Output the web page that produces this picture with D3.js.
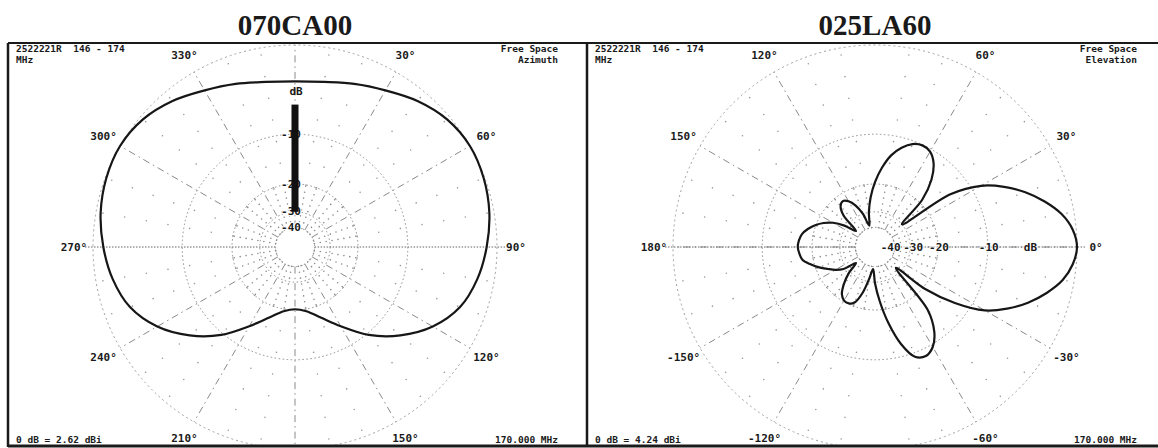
<!DOCTYPE html>
<html>
<head>
<meta charset="utf-8">
<script src="https://cdn.jsdelivr.net/npm/d3@7"></script>
<style>
  body { margin: 0; background: #fff; }
  text { font-family: "DejaVu Sans Mono", "Liberation Mono", monospace; }
</style>
</head>
<body>
<div id="chart"></div>
<script>
// ---- data ----
const titles = ["070CA00", "025LA60"];
const headerLeft = ["2522221R  146 - 174", "MHz"];
const headerRight = [["Free Space", "Azimuth"], ["Free Space", "Elevation"]];
const footerLeft = ["0 dB = 2.62 dBi", "0 dB = 4.24 dBi"];
const footerRight = ["170.000 MHz", "170.000 MHz"];

// azimuth plot: compass degrees (0 = up, clockwise), gain in dB
const azAngles = [0, 10, 20, 30, 40, 50, 60, 70, 80, 90, 100, 110, 120, 130, 140, 150, 160, 170,
                  180, 190, 200, 210, 220, 230, 240, 250, 260, 270, 280, 290, 300, 310, 320, 330, 340, 350];
const azGain = [-3.4, -3.2, -2.6, -1.9, -1.0, -0.3, 0.0, -0.1, -0.4, -0.9, -1.5, -2.4, -4.1, -6.6, -9.7, -13.6, -17.0, -19.4,
                -20.2, -19.4, -17.0, -13.6, -9.7, -6.6, -4.1, -2.4, -1.5, -0.9, -0.4, -0.1, 0.0, -0.3, -1.0, -1.9, -2.6, -3.2];

// elevation plot: degrees (0 = right, counter-clockwise), gain in dB
const elAngles = [-180, -175, -170, -165, -160, -155, -150, -145, -140, -135, -130, -125, -120, -115, -110, -105, -100, -95,
                  -90, -85, -80, -75, -70, -65, -60, -55, -50, -45, -40, -35, -30, -25, -20, -15, -10, -5,
                  0, 5, 10, 15, 20, 25, 30, 35, 40, 45, 50, 55, 60, 65, 70, 75, 80, 85,
                  90, 95, 100, 105, 110, 115, 120, 125, 130, 135, 140, 145, 150, 155, 160, 165, 170, 175];
const elGain = [-16.5, -16.8, -17.3, -19.0, -21.0, -23.3, -25.5, -28.5, -36.0, -29.0, -24.5, -21.5, -20.3, -20.2, -21.2, -25.0, -32.0, -38.0,
                -29.5, -22.5, -16.5, -12.0, -9.4, -8.9, -9.6, -11.5, -15.5, -33.0, -19.5, -12.5, -8.0, -5.6, -3.7, -2.2, -1.0, -0.3,
                0.0, -0.3, -1.1, -2.4, -4.0, -6.0, -8.6, -13.5, -30.0, -19.0, -14.3, -11.7, -10.4, -10.1, -10.5, -11.6, -13.3, -16.0,
                -19.5, -24.0, -30.0, -38.0, -30.0, -25.5, -23.0, -22.0, -22.8, -26.0, -36.0, -29.0, -24.5, -21.8, -19.8, -18.3, -17.2, -16.7];

const ringDb = [0, -10, -20, -30, -40];
const ringLabels = ["-10", "-20", "-30", "-40"];
const ringLabelDb = [-10, -20, -30, -40];
const azLabelAngles = [330, 30, 300, 60, 270, 90, 240, 120, 210, 150];
const elLabelAngles = [120, 60, 150, 30, 180, 0, -150, -30, -120, -60];
const scaleBarDb = [-6, -30];

// ---- layout ----
const W = 1158, H = 448;
const frameTop = 43, frameBottom = 446, cy = 247, R = 202;
const panels = [
  { x0: 8, x1: 580, cx: 295, mode: "az" },
  { x0: 587, x1: 1158, cx: 875, mode: "el" }
];

// ARRL log scale: radius shrinks by 0.89 every 2 dB
const gainScale = d3.scaleLog().domain([R * Math.pow(0.89, 20), R]).range([-40, 0]);
const rad = db => gainScale.invert(db);
const toRad = a => a * Math.PI / 180;

const svg = d3.select("#chart").append("svg")
  .attr("width", W).attr("height", H);

panels.forEach((p, i) => {
  // compass angle (0 up, clockwise) for either mode
  const theta = p.mode === "az" ? (a => a) : (a => 90 - a);
  const px = (a, r) => r * Math.sin(toRad(theta(a)));
  const py = (a, r) => -r * Math.cos(toRad(theta(a)));

  svg.append("clipPath").attr("id", "clip" + i)
    .append("rect").attr("x", p.x0).attr("y", frameTop)
    .attr("width", p.x1 - p.x0).attr("height", frameBottom - frameTop);

  const g = svg.append("g").attr("clip-path", `url(#clip${i})`)
    .append("g").attr("transform", `translate(${p.cx},${cy})`);

  // title
  svg.append("text")
    .attr("x", p.cx).attr("y", 35)
    .attr("text-anchor", "middle")
    .style("font-family", "'Liberation Serif', 'Times New Roman', serif")
    .style("font-weight", "bold")
    .style("font-size", "29px")
    .attr("fill", "#1a1a1a")
    .text(titles[i]);

  // minor radials every 10 deg, dotted
  const minor = d3.range(0, 360, 10).filter(a => a % 30 !== 0);
  g.selectAll(".minorIn").data(minor).join("line")
    .attr("x1", a => px(a, rad(-40))).attr("y1", a => py(a, rad(-40)))
    .attr("x2", a => px(a, rad(-20))).attr("y2", a => py(a, rad(-20)))
    .attr("stroke", "#8a8a8a").attr("stroke-width", 1.6)
    .attr("stroke-linecap", "round").attr("stroke-dasharray", "0,6");
  g.selectAll(".minorOut").data(minor).join("line")
    .attr("x1", a => px(a, rad(-20))).attr("y1", a => py(a, rad(-20)))
    .attr("x2", a => px(a, R)).attr("y2", a => py(a, R))
    .attr("stroke", "#9a9a9a").attr("stroke-width", 1.6)
    .attr("stroke-linecap", "round").attr("stroke-dasharray", "0,22");

  // rings
  g.selectAll(".ring").data(ringDb).join("circle")
    .attr("r", d => rad(d))
    .attr("fill", "none")
    .attr("stroke", d => d === 0 ? "#a0a0a0" : "#8c8c8c")
    .attr("stroke-width", 1)
    .attr("stroke-dasharray", d => d === 0 ? "2,3" : "1.5,2.5");

  // 30 deg spokes, dash-dot
  const spokes = d3.range(0, 360, 30).filter(a => a % 90 !== 0 || a === 0 || a === 180);
  g.selectAll(".spoke").data(spokes).join("line")
    .attr("x1", a => px(a, rad(-40))).attr("y1", a => py(a, rad(-40)))
    .attr("x2", a => px(a, R)).attr("y2", a => py(a, R))
    .attr("stroke", "#8a8a8a").attr("stroke-width", 1)
    .attr("stroke-dasharray", "7,4,1.5,4");

  // horizontal axis, denser
  g.append("line")
    .attr("x1", -R - 8).attr("x2", -rad(-40)).attr("y1", 0).attr("y2", 0)
    .attr("stroke", "#666").attr("stroke-width", 1).attr("stroke-dasharray", "1.5,1.5");
  g.append("line")
    .attr("x1", rad(-40)).attr("x2", R + 8).attr("y1", 0).attr("y2", 0)
    .attr("stroke", "#666").attr("stroke-width", 1).attr("stroke-dasharray", "1.5,1.5");

  // pattern
  const angles = p.mode === "az" ? azAngles : elAngles;
  const gains = p.mode === "az" ? azGain : elGain;
  const pts = angles.map((a, k) => ({ a, db: gains[k] }));
  const line = d3.lineRadial()
    .angle(d => toRad(theta(d.a)))
    .radius(d => rad(d.db))
    .curve(d3.curveCatmullRomClosed.alpha(0.5));
  g.append("path").datum(pts)
    .attr("d", line)
    .attr("fill", "none")
    .attr("stroke", "#161616")
    .attr("stroke-width", 2.2);

  // dB ring labels
  const lab = g.append("g")
    .style("font-size", "11px").style("font-weight", "bold")
    .attr("fill", "#1a1a1a");
  if (p.mode === "az") {
    lab.selectAll("text").data(ringLabelDb).join("text")
      .attr("x", -4).attr("y", d => -rad(d))
      .attr("text-anchor", "middle").attr("dominant-baseline", "central")
      .attr("stroke", "#fff").attr("stroke-width", 2).attr("paint-order", "stroke")
      .text((d, k) => ringLabels[k]);
    lab.append("text").attr("x", 1).attr("y", -rad(-4.5))
      .attr("text-anchor", "middle").attr("dominant-baseline", "central").text("dB");
    g.append("rect")
      .attr("x", -3.5).attr("width", 7)
      .attr("y", -rad(scaleBarDb[0]))
      .attr("height", rad(scaleBarDb[0]) - rad(scaleBarDb[1]))
      .attr("fill", "#111");
  } else {
    // inner labels sit tight together, nudge the two innermost apart
    const nudge = d => d === -40 ? -4 : d === -30 ? 3 : 1;
    lab.selectAll("text").data(ringLabelDb).join("text")
      .attr("x", d => rad(d) + nudge(d)).attr("y", 0)
      .attr("text-anchor", "middle").attr("dominant-baseline", "central")
      .attr("stroke", "#fff").attr("stroke-width", 2).attr("paint-order", "stroke")
      .text((d, k) => ringLabels[k]);
    lab.append("text").attr("x", rad(-4.5)).attr("y", 0)
      .attr("text-anchor", "middle").attr("dominant-baseline", "central")
      .attr("stroke", "#fff").attr("stroke-width", 2).attr("paint-order", "stroke")
      .text("dB");
  }

  // angle labels
  const labAngles = p.mode === "az" ? azLabelAngles : elLabelAngles;
  g.append("g").selectAll("text").data(labAngles).join("text")
    .attr("x", a => px(a, 221)).attr("y", a => py(a, 221))
    .attr("text-anchor", "middle").attr("dominant-baseline", "central")
    .style("font-size", "11px").style("font-weight", "bold")
    .attr("fill", "#1a1a1a")
    .text(a => a + "°");

  // corner texts
  const corner = svg.append("g")
    .style("font-size", "9.5px").style("font-weight", "bold").attr("fill", "#1a1a1a");
  corner.append("text").attr("x", p.x0 + 8).attr("y", 52)
    .style("white-space", "pre").text(headerLeft[0]);
  corner.append("text").attr("x", p.x0 + 8).attr("y", 63).text(headerLeft[1]);
  const xr = p.x0 + 550;
  corner.append("text").attr("x", xr).attr("y", 52).attr("text-anchor", "end").text(headerRight[i][0]);
  corner.append("text").attr("x", xr).attr("y", 63).attr("text-anchor", "end").text(headerRight[i][1]);
  corner.append("text").attr("x", p.x0 + 8).attr("y", 443).text(footerLeft[i]);
  corner.append("text").attr("x", xr).attr("y", 443).attr("text-anchor", "end").text(footerRight[i]);
});

// frame lines
const frame = svg.append("g").attr("stroke", "#1a1a1a");
frame.append("line").attr("x1", 8).attr("x2", W).attr("y1", frameTop).attr("y2", frameTop).attr("stroke-width", 2);
frame.append("line").attr("x1", 8).attr("x2", W).attr("y1", frameBottom).attr("y2", frameBottom).attr("stroke-width", 3);
frame.selectAll(".v").data(panels).join("line")
  .attr("x1", d => d.x0).attr("x2", d => d.x0)
  .attr("y1", frameTop).attr("y2", frameBottom + 1)
  .attr("stroke-width", 2.5);
</script>
</body>
</html>
